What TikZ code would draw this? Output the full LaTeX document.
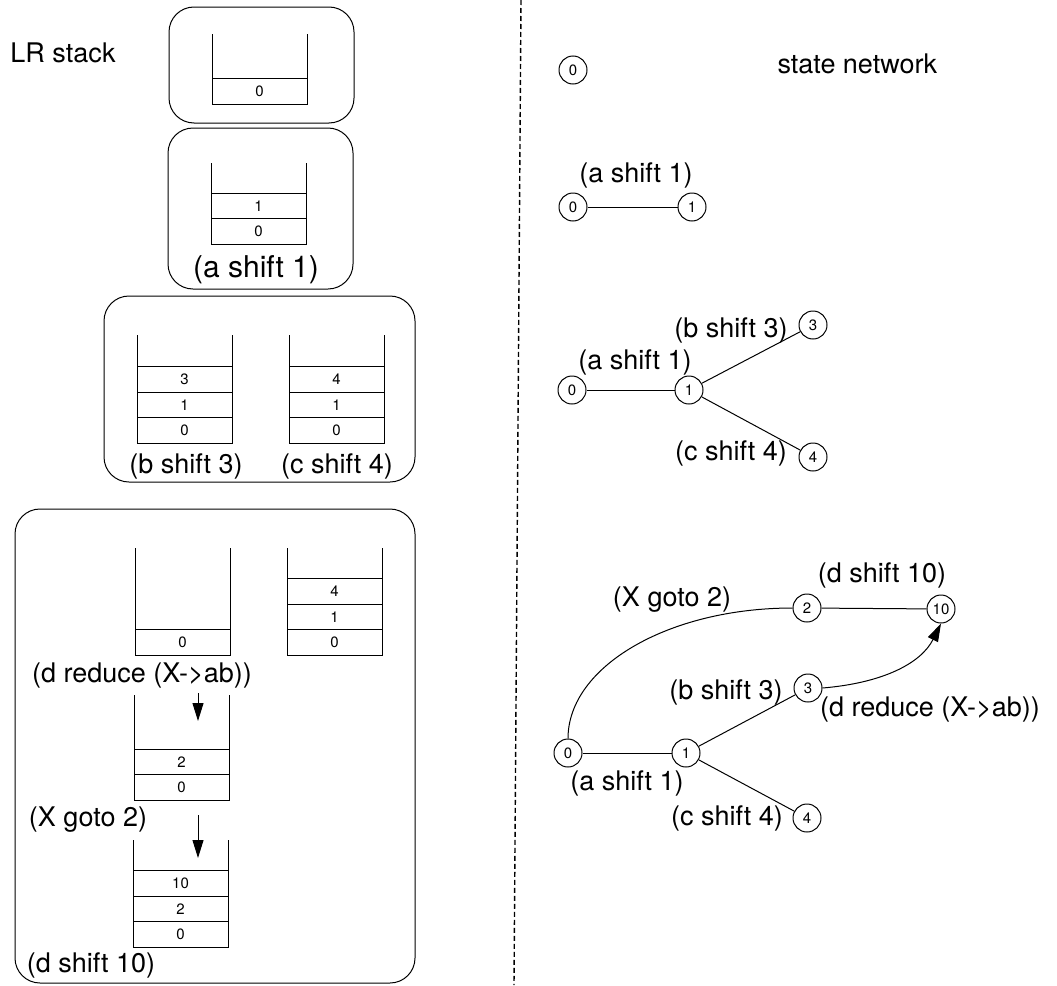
\documentclass[tikz,border=0pt]{standalone}
\usepackage{fontspec}
\setmainfont{TeX Gyre Heros}
\usetikzlibrary{arrows.meta}

\begin{document}
\begin{tikzpicture}
  [x=1pt,y=-1pt,line width=1pt,
   every node/.style={inner sep=0pt},
   txt/.style={font=\fontsize{27}{32}\selectfont},
   cell/.style={font=\fontsize{15}{18}\selectfont},
   state/.style={circle,draw,minimum size=28pt,font=\fontsize{15}{18}\selectfont},
   panel/.style={draw,rounded corners=25pt},
   push/.style={-{Triangle[length=18pt,width=11pt]}}]
  \useasboundingbox (0,0) rectangle (1057,985);

  % LR stack side
  \node[txt] (lr) at (63,53) {LR stack};
  \draw[panel] (169,7) rectangle (354,123);
  \draw[panel] (168,128) rectangle (353,289);
  \draw[panel] (104,296) rectangle (415,482);
  \draw[panel] (15,509) rectangle (415,983);

  \foreach \x/\y/\t/\c [count=\s] in {212/104/34/{0}, 211/244/163/{0,1},
      137/443/335/{0,1,3}, 289/443/335/{0,1,4}, 135/655/548/{0},
      287/655/548/{0,1,4}, 134/800/695/{0,2}, 133/947/840/{0,2,10}}
  {
    \draw (\x,\t) |- (\x+95,\y) -- (\x+95,\t);
    \foreach \v [count=\i] in \c {
      \draw (\x,\y-25.5*\i) -- +(95,0);
      \node[cell] (s\s-\i) at (\x+47.5,\y-25.5*\i+12.75) {\v};
    }
  }

  \node[txt,font=\fontsize{30}{36}\selectfont] (sa) at (256,270) {(a shift 1)};
  \node[txt] (sb) at (186,466) {(b shift 3)};
  \node[txt] (sc) at (337,466) {(c shift 4)};
  \node[txt] (sred) at (142,676) {(d reduce (X->ab))};
  \node[txt] (sgo) at (88,820) {(X goto 2)};
  \node[txt] (sd) at (91,965) {(d shift 10)};

  \coordinate (a1s) at (198,693);
  \coordinate (a1e) at (198,721);
  \coordinate (a2s) at (198,815);
  \coordinate (a2e) at (198,858);
  \draw[push] (a1s) -- (a1e);
  \draw[push] (a2s) -- (a2e);

  % divider
  \coordinate (top) at (521,0);
  \coordinate (bot) at (514,985);
  \draw[line width=1.4pt,dash pattern=on 5pt off 3pt] (top) -- (bot);

  % state network side
  \node[state] (n0) at (573,70) {0};
  \node[txt,anchor=base west] (net) at (777,73) {state network};

  \node[state] (m0) at (573,207) {0};
  \node[state] (m1) at (692,207) {1};
  \node[txt] (ma) at (636,175) {(a shift 1)};

  \node[state] (p0) at (572,390) {0};
  \node[state] (p1) at (689,390) {1};
  \node[state] (p3) at (813,325) {3};
  \node[state] (p4) at (813,457) {4};
  \node[txt] (pa) at (635,362) {(a shift 1)};
  \node[txt] (pb) at (731,330) {(b shift 3)};
  \node[txt] (pc) at (731,453) {(c shift 4)};

  \node[state] (q0) at (568,753) {0};
  \node[state] (q1) at (686,753) {1};
  \node[state] (q2) at (807,608) {2};
  \node[state] (q10) at (941,609) {10};
  \node[state] (q3) at (808,688) {3};
  \node[state] (q4) at (807,818) {4};
  \node[txt] (qd) at (882,575) {(d shift 10)};
  \node[txt] (qx) at (672,600) {(X goto 2)};
  \node[txt] (qb) at (726,692) {(b shift 3)};
  \node[txt] (qr) at (930,710) {(d reduce (X->ab))};
  \node[txt] (qa) at (627,783) {(a shift 1)};
  \node[txt] (qc) at (727,818) {(c shift 4)};

  \foreach \from/\to in {m0/m1, p0/p1, p1/p3, p1/p4, q0/q1, q1/q3, q1/q4, q2/q10}
    \draw (\from) -- (\to);
  \draw (q0.north) .. controls +(0,-72) and +(-124,0) .. (q2.west);
  \draw[push] (q3.east) .. controls +(60,-5) and +(-20,40) .. (q10.south);
\end{tikzpicture}
\end{document}
